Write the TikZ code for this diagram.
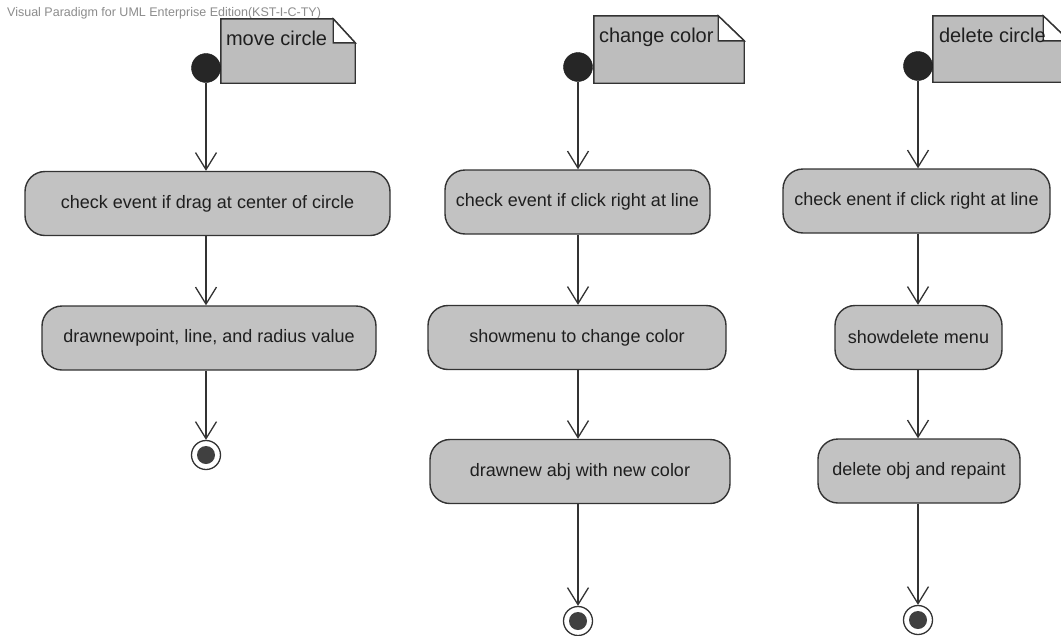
\documentclass[tikz,border=0pt]{standalone}
\usepackage{fontspec}
\setmainfont{Liberation Sans}
\usetikzlibrary{arrows.meta}
\definecolor{actfill}{HTML}{C2C2C2}
\definecolor{notefill}{HTML}{BDBDBD}
\definecolor{edge}{HTML}{333333}
\begin{document}
\begin{tikzpicture}[x=1pt,y=-1pt,
  act/.style={draw=edge, line width=1.4pt, fill=actfill, rounded corners=20pt,
    font=\fontsize{18}{21}\selectfont, text=black!88, inner sep=0pt, minimum height=64pt},
  startst/.style={circle, fill=black!85, draw=black!90, minimum size=29pt, inner sep=0pt},
  endst/.style={circle, draw=edge, line width=1.3pt, fill=white, minimum size=29pt, inner sep=0pt,
    path picture={\fill[black!75] (path picture bounding box.center) circle (9pt);}},
  arr/.style={draw=edge, line width=1.3pt, -{Straight Barb[length=17pt,width=21pt,line width=1.3pt]}},
  notebox/.style={draw=none, inner sep=0pt},
  noteshape/.style={fill=notefill, draw=edge, line width=1.4pt},
  notefold/.style={fill=white, draw=edge, line width=1.4pt},
  notetext/.style={font=\fontsize{20}{23}\selectfont, text=black!88, anchor=north west, inner sep=0pt},
  header/.style={font=\fontsize{12.5}{14}\selectfont, text=black!45, anchor=west, inner sep=0pt},
]
\useasboundingbox (0,0) rectangle (1061,635);
\fill[white] (0,0) rectangle (1061,635);

% header
\node[header] (hdr) at (7,13) {Visual Paradigm for UML Enterprise Edition(KST-I-C-TY)};

% ---------- notes ----------
\node[notebox, minimum width=134pt, minimum height=64pt] (n1) at (288,51) {};
\path[noteshape] (n1.north west) -- ([xshift=-22pt]n1.north east) -- ([yshift=-24pt]n1.north east) -- (n1.south east) -- (n1.south west) -- cycle;
\path[notefold] ([xshift=-22pt]n1.north east) -- ([xshift=-22pt,yshift=-24pt]n1.north east) -- ([yshift=-24pt]n1.north east) -- cycle;
\node[notetext] (t1) at ([xshift=5pt,yshift=-12pt]n1.north west) {move circle};

\node[notebox, minimum width=150pt, minimum height=67pt] (n2) at (669,49.5) {};
\path[noteshape] (n2.north west) -- ([xshift=-26pt]n2.north east) -- ([yshift=-25pt]n2.north east) -- (n2.south east) -- (n2.south west) -- cycle;
\path[notefold] ([xshift=-26pt]n2.north east) -- ([xshift=-26pt,yshift=-25pt]n2.north east) -- ([yshift=-25pt]n2.north east) -- cycle;
\node[notetext] (t2) at ([xshift=5pt,yshift=-12pt]n2.north west) {change color};

\node[notebox, minimum width=136pt, minimum height=66pt] (n3) at (1001,49) {};
\path[noteshape] (n3.north west) -- ([xshift=-26pt]n3.north east) -- ([yshift=-25pt]n3.north east) -- (n3.south east) -- (n3.south west) -- cycle;
\path[notefold] ([xshift=-26pt]n3.north east) -- ([xshift=-26pt,yshift=-25pt]n3.north east) -- ([yshift=-25pt]n3.north east) -- cycle;
\node[notetext] (t3) at ([xshift=6pt,yshift=-12pt]n3.north west) {delete circle};

% ---------- column 1 ----------
\node[startst] (s1) at (206,68) {};
\node[act, minimum width=365pt] (a1) at (207.5,203.5) {check event if drag at center of circle};
\node[act, minimum width=334pt] (a2) at (209,338) {drawnewpoint, line, and radius value};
\node[endst] (e1) at (206,455) {};
\draw[arr] (s1.south) -- (s1 |- a1.north);
\draw[arr] (s1 |- a1.south) -- (s1 |- a2.north);
\draw[arr] (s1 |- a2.south) -- (e1.north);

% ---------- column 2 ----------
\node[startst] (s2) at (578,67) {};
\node[act, minimum width=265pt] (b1) at (577.5,202) {check event if click right at line};
\node[act, minimum width=298pt] (b2) at (577,337.5) {showmenu to change color};
\node[act, minimum width=300pt] (b3) at (580,471.5) {drawnew abj with new color};
\node[endst] (e2) at (578,621) {};
\draw[arr] (s2.south) -- (s2 |- b1.north);
\draw[arr] (s2 |- b1.south) -- (s2 |- b2.north);
\draw[arr] (s2 |- b2.south) -- (s2 |- b3.north);
\draw[arr] (s2 |- b3.south) -- (e2.north);

% ---------- column 3 ----------
\node[startst] (s3) at (918,66) {};
\node[act, minimum width=267pt] (c1) at (916.5,201) {check enent if click right at line};
\node[act, minimum width=167pt] (c2) at (918.5,337.5) {showdelete menu};
\node[act, minimum width=202pt] (c3) at (919,471) {delete obj and repaint};
\node[endst] (e3) at (918,620) {};
\draw[arr] (s3.south) -- (s3 |- c1.north);
\draw[arr] (s3 |- c1.south) -- (s3 |- c2.north);
\draw[arr] (s3 |- c2.south) -- (s3 |- c3.north);
\draw[arr] (s3 |- c3.south) -- (e3.north);
\end{tikzpicture}
\end{document}
